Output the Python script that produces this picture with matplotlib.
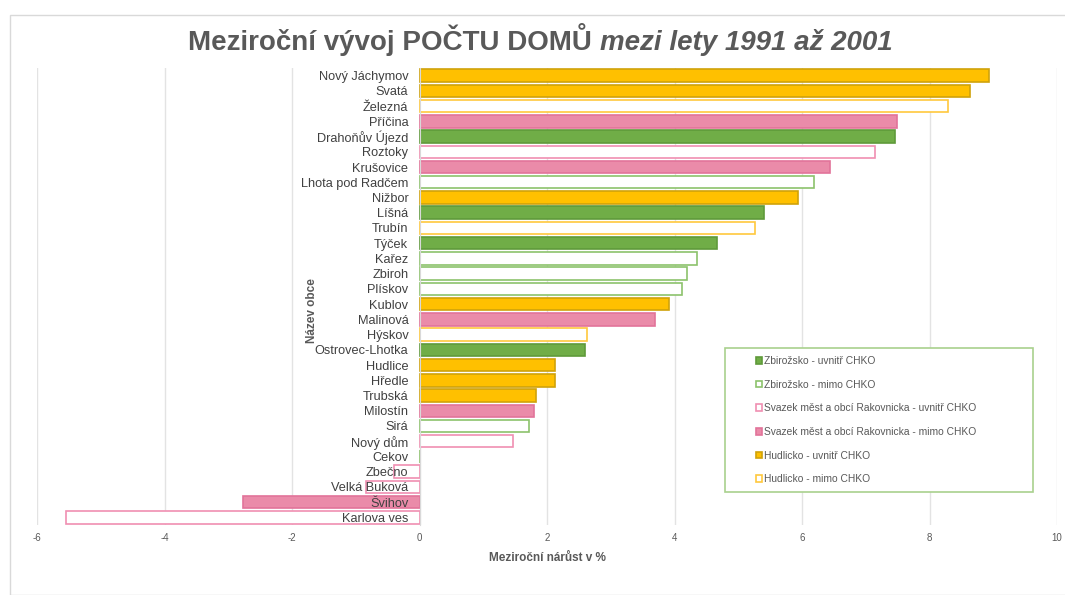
import matplotlib.pyplot as plt
from matplotlib.patches import Patch, Rectangle

# obce seřazené shora dolů
obce = ["Nový Jáchymov", "Svatá", "Železná", "Příčina", "Drahoňův Újezd",
        "Roztoky", "Krušovice", "Lhota pod Radčem", "Nižbor", "Líšná",
        "Trubín", "Týček", "Kařez", "Zbiroh", "Plískov", "Kublov",
        "Malinová", "Hýskov", "Ostrovec-Lhotka", "Hudlice", "Hředle",
        "Trubská", "Milostín", "Sirá", "Nový dům", "Cekov", "Zbečno",
        "Velká Buková", "Švihov", "Karlova ves"]
narust = [8.93, 8.64, 8.29, 7.49, 7.46, 7.15, 6.44, 6.19, 5.94, 5.41,
          5.27, 4.66, 4.36, 4.20, 4.11, 3.92, 3.70, 2.62, 2.60, 2.12,
          2.12, 1.82, 1.80, 1.72, 1.46, 0.0, -0.40, -0.84, -2.77, -5.54]
skupina = ["HU", "HU", "HM", "RM", "ZU", "RU", "RM", "ZM", "HU", "ZU",
           "HM", "ZU", "ZM", "ZM", "ZM", "HU", "RM", "HM", "ZU", "HU",
           "HU", "HU", "RM", "ZM", "RU", "ZM", "RU", "RU", "RM", "RU"]

skupiny = ["ZU", "ZM", "RU", "RM", "HU", "HM"]
popisky = ["Zbirožsko - uvnitř CHKO", "Zbirožsko - mimo CHKO",
           "Svazek měst a obcí Rakovnicka - uvnitř CHKO",
           "Svazek měst a obcí Rakovnicka - mimo CHKO",
           "Hudlicko - uvnitř CHKO", "Hudlicko - mimo CHKO"]

# (výplň, okraj)
styl = {
    "ZU": ("#70AD47", "#5F9A3A"),
    "ZM": ("white", "#8CC26C"),
    "RU": ("white", "#F08FB2"),
    "RM": ("#EA8BA9", "#E2739A"),
    "HU": ("#FFC000", "#CFA20A"),
    "HM": ("white", "#FFC83D"),
}

plt.rcParams["font.family"] = ["Liberation Sans", "DejaVu Sans"]
plt.rcParams["axes.unicode_minus"] = False

W, H = 1065, 595
fig = plt.figure(figsize=(W / 100, H / 100), dpi=100)
ax = fig.add_axes([37 / W, 1 - 525 / H, 1020 / W, 457 / H])

fig.patches.append(Rectangle((10 / W, 0), 1.0, 1 - 15 / H,
                             transform=fig.transFigure, fill=False,
                             edgecolor="#D9D9D9", linewidth=1))

y = list(range(len(obce)))
ax.barh(y, narust, height=0.82,
        color=[styl[s][0] for s in skupina],
        edgecolor=[styl[s][1] for s in skupina], linewidth=1.2, zorder=3)

ax.set_ylim(len(obce) - 0.5, -0.5)
ax.set_xlim(-6, 10)
ax.set_xticks(range(-6, 11, 2))
ax.xaxis.grid(True, color="#E3E3E3", linewidth=1)
ax.set_axisbelow(True)
ax.yaxis.set_zorder(5)

ax.set_yticks(y)
ax.set_yticklabels(obce)
ax.spines["left"].set_position(("data", 0))
ax.spines["left"].set_color("#D9D9D9")
ax.spines["left"].set_zorder(4)
for s in ["top", "right", "bottom"]:
    ax.spines[s].set_visible(False)
ax.tick_params(axis="y", length=0, pad=8, labelsize=9.2, labelcolor="#404040")
ax.tick_params(axis="x", length=0, labelsize=7, labelcolor="#595959", pad=6)

ax.set_xlabel("Meziroční nárůst v %", fontsize=8.5, fontweight="bold",
              color="#595959", labelpad=6)
ax.text(0.27, 0.47, "Název obce", transform=ax.transAxes, rotation=90,
        ha="center", va="center", fontsize=8.5, fontweight="bold",
        color="#595959")

# rámeček legendy zvlášť, aby šel nastavit rozměr
fig.patches.append(Rectangle((725 / W, 1 - 492 / H), 308 / W, 144 / H,
                             transform=fig.transFigure, fill=True,
                             facecolor="white", edgecolor="#A9D18E",
                             linewidth=1.2, zorder=5))
handles = [Patch(facecolor=styl[s][0], edgecolor=styl[s][1], linewidth=1.2)
           for s in skupiny]
leg = fig.legend(handles, popisky, loc="upper left",
                 bbox_to_anchor=(756 / W, 1 - 356 / H),
                 fontsize=7.4, frameon=False,
                 handlelength=0.6, handleheight=0.6,
                 handletextpad=0.2, labelspacing=1.33, borderpad=0,
                 borderaxespad=0)
for t in leg.get_texts():
    t.set_color("#595959")
leg.set_zorder(6)

# nadpis: tučná a kurzívní část
fig.canvas.draw()
r = fig.canvas.get_renderer()
t1 = fig.text(0, 0, "Meziroční vývoj POČTU DOMŮ ", fontsize=20,
              fontweight="bold", color="#595959")
t2 = fig.text(0, 0, "mezi lety 1991 až 2001", fontsize=20, fontweight="bold",
              style="italic", color="#595959")
w1 = t1.get_window_extent(r).width
w2 = t2.get_window_extent(r).width
x0 = 540 - (w1 + w2) / 2
yt = 1 - 50 / H
t1.set_position((x0 / W, yt))
t2.set_position(((x0 + w1) / W, yt))

fig.savefig("out.png", dpi=100)
